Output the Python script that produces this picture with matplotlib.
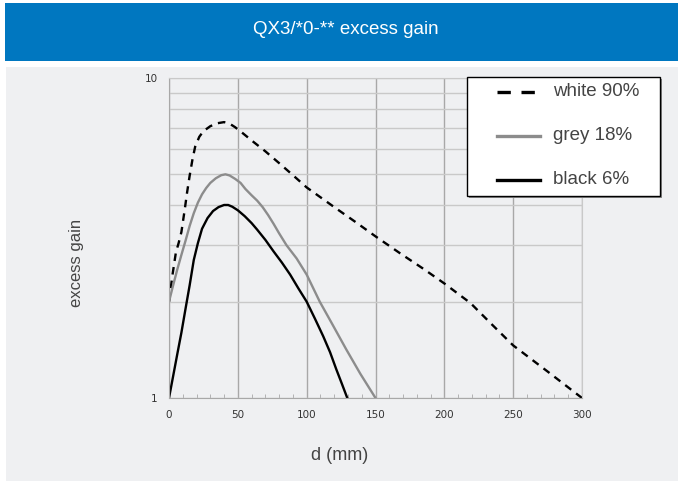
import matplotlib.pyplot as plt
from matplotlib.lines import Line2D
from matplotlib.patches import Rectangle
from matplotlib.ticker import FixedLocator, NullFormatter, MultipleLocator

# values (d in mm, excess gain on log scale)
white_d = [0, 2.5, 5, 7, 9, 11.5, 13, 15, 17, 19, 22, 25, 30, 35, 40, 44, 48, 54, 60, 70, 80, 90,
           100, 110, 120, 135, 150, 168, 185, 200, 219, 235, 250, 275, 300]
white_g = [2.0, 2.42, 2.85, 3.05, 3.3, 3.9, 4.35, 4.95, 5.55, 6.1, 6.55, 6.82, 7.07, 7.22, 7.28, 7.2, 7.02,
           6.7, 6.38, 5.9, 5.42, 4.97, 4.55, 4.24, 3.95, 3.56, 3.2, 2.83, 2.53, 2.28, 1.98, 1.69, 1.46, 1.21, 1.0]

grey_d = [0, 3, 6, 9, 12, 15, 18, 21, 24, 27, 30, 34, 38, 41, 44, 48, 52, 55.5, 60, 64, 68, 72, 76, 80,
          85.4, 92.7, 100, 109.5, 118, 128.7, 139, 150]
grey_g = [2.0, 2.25, 2.52, 2.8, 3.1, 3.45, 3.78, 4.08, 4.33, 4.53, 4.7, 4.86, 4.97, 5.0, 4.96, 4.84, 4.7,
          4.5, 4.3, 4.14, 3.95, 3.73, 3.5, 3.27, 3.0, 2.73, 2.43, 2.0, 1.72, 1.42, 1.19, 1.0]

black_d = [0, 3, 6, 9, 12, 15, 18, 21, 24, 28, 32, 36, 40, 43, 46, 50, 55, 60, 64, 70, 76, 82, 88, 94,
           100, 106, 112, 117, 121.5, 125.5, 129.5]
black_g = [1.0, 1.17, 1.37, 1.6, 1.9, 2.25, 2.7, 3.05, 3.38, 3.65, 3.84, 3.95, 4.01, 4.01, 3.96, 3.86, 3.7,
           3.52, 3.36, 3.12, 2.87, 2.65, 2.43, 2.2, 2.0, 1.77, 1.56, 1.39, 1.23, 1.11, 1.0]

labels = ["white 90%", "grey 18%", "black 6%"]
x_ticks = [0, 50, 100, 150, 200, 250, 300]

W, H = 678, 483
WHITE_DASH = (3.2, 2.6)


def fx(px):
    return px / W


def fy(py):
    return 1 - py / H


fig = plt.figure(figsize=(W / 100, H / 100), dpi=100)
fig.patch.set_facecolor("white")

# header bar and grey panel
fig.add_artist(Rectangle((fx(5), fy(61)), 1, 58 / H, transform=fig.transFigure,
                         facecolor="#0077c0", edgecolor="none", zorder=0))
fig.add_artist(Rectangle((fx(6), fy(481)), 1, 414 / H, transform=fig.transFigure,
                         facecolor="#eff0f2", edgecolor="none", zorder=0))
fig.text(fx(346), fy(29), "QX3/*0-** excess gain", color="white", fontsize=13.5,
         family="Liberation Sans", ha="center", va="center")

ax = fig.add_axes([fx(169), fy(398), 413 / W, 320 / H])
ax.set_facecolor("#eff0f2")
ax.set_yscale("log")
ax.set_xlim(0, 300)
ax.set_ylim(1, 10)

ax.set_xticks(x_ticks)
ax.xaxis.set_minor_locator(MultipleLocator(10))
ax.yaxis.set_major_locator(FixedLocator([1, 10]))
ax.yaxis.set_minor_locator(FixedLocator([2, 3, 4, 5, 6, 7, 8, 9]))
ax.yaxis.set_minor_formatter(NullFormatter())
ax.set_yticklabels(["1", "10"])

ax.grid(True, axis="x", which="major", color="#a8a8a8", lw=1.0)
ax.grid(True, axis="y", which="both", color="#c9c9c9", lw=1.0)
ax.set_axisbelow(True)
ax.tick_params(axis="both", which="both", labelsize=7.5, labelcolor="#333333", length=0)
ax.tick_params(axis="x", pad=9)
ax.tick_params(axis="y", pad=8)
ax.tick_params(axis="x", which="minor", direction="in", length=3, color="#a8a8a8")
for side in ["left", "bottom"]:
    ax.spines[side].set_color("#a8a8a8")
for side in ["top", "right"]:
    ax.spines[side].set_color("#c9c9c9")

ax.plot(white_d, white_g, color="black", lw=1.7, dashes=WHITE_DASH)
ax.plot(grey_d, grey_g, color="#8c8c8c", lw=1.7)
ax.plot(black_d, black_g, color="black", lw=1.7)

fig.text(fx(340), fy(455), "d (mm)", fontsize=13, color="#444444",
         family="Liberation Sans", ha="center", va="center")
fig.text(fx(77), fy(263), "excess gain", fontsize=12, color="#444444", rotation=90,
         family="Liberation Sans", ha="center", va="center")

# legend box, drawn by hand to get the reference's padding
fig.add_artist(Rectangle((fx(469), fy(198)), 193 / W, 119 / H, transform=fig.transFigure,
                         facecolor="#8a8a8a", edgecolor="none", zorder=9))
fig.add_artist(Rectangle((fx(467), fy(196)), 193 / W, 119 / H, transform=fig.transFigure,
                         facecolor="white", edgecolor="black", lw=1.0, zorder=10))
legend_styles = [
    dict(color="black", dashes=(4.0, 3.2)),
    dict(color="#8c8c8c"),
    dict(color="black"),
]
for i, (label, style) in enumerate(zip(labels, legend_styles)):
    row_y = 92 + 44 * i
    fig.add_artist(Line2D([fx(497), fx(540)], [fy(row_y), fy(row_y)], transform=fig.transFigure,
                          lw=2.4, zorder=11, **style))
    fig.text(fx(553), fy(row_y), label, fontsize=13.5, color="#444444", family="Liberation Sans",
             ha="left", va="center", zorder=11)

fig.savefig("out.png", dpi=100)
